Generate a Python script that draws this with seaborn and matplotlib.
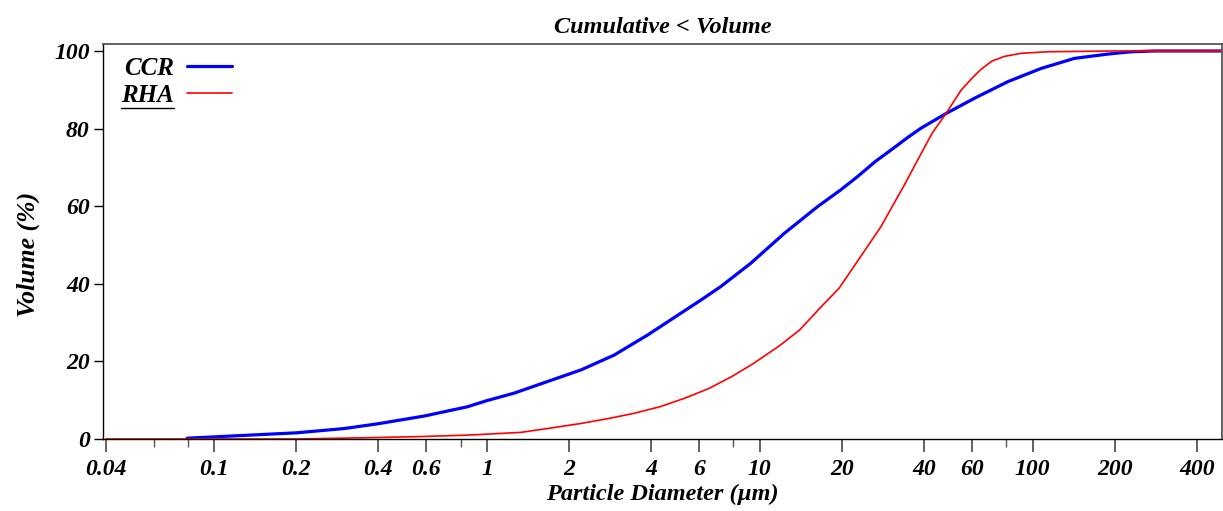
import matplotlib
matplotlib.use("Agg")
import matplotlib.pyplot as plt
import seaborn as sns
import pandas as pd
import numpy as np
from matplotlib.lines import Line2D
from matplotlib.ticker import FixedLocator, NullFormatter, FixedFormatter

# ---- data ----
ccr_d = [0.0795, 0.118, 0.201, 0.3, 0.396, 0.587, 0.847, 1.0, 1.255, 1.665, 2.21, 2.92,
         3.88, 5.13, 6.08, 7.2, 9.27, 12.3, 16.3, 19.8, 22.8, 26.5, 30.3, 35.0, 39.0,
         48.2, 61.2, 81.2, 107.5, 142.5, 189.0, 230.0, 280.0, 495.0]
ccr_v = [0.2, 0.8, 1.6, 2.7, 3.9, 5.9, 8.3, 9.9, 11.8, 14.8, 17.8, 21.6,
         26.8, 32.4, 35.8, 39.3, 45.3, 53.0, 59.9, 64.2, 67.6, 71.5, 74.5, 77.8, 80.1,
         83.9, 87.8, 92.1, 95.5, 98.1, 99.2, 99.8, 100.0, 100.0]
rha_d = [0.04, 0.2, 0.344, 0.555, 0.847, 1.33, 1.665, 2.21, 2.8, 3.45, 4.3, 5.3, 6.5,
         7.9, 9.5, 11.9, 14.0, 16.8, 19.5, 22.8, 27.8, 33.9, 39.0, 43.0, 48.2, 54.7,
         60.0, 64.8, 71.0, 78.8, 90.8, 113.7, 200.0, 495.0]
rha_v = [0.0, 0.0, 0.3, 0.6, 1.0, 1.7, 2.7, 4.0, 5.3, 6.6, 8.3, 10.5, 13.0,
         16.1, 19.5, 24.2, 28.1, 34.1, 38.8, 45.8, 54.7, 65.5, 73.5, 79.0, 83.9, 89.9,
         93.0, 95.3, 97.4, 98.6, 99.4, 99.8, 100.0, 100.0]

series_names = ["CCR", "RHA"]
major_ticks = [0.04, 0.1, 0.2, 0.4, 0.6, 1, 2, 4, 6, 10, 20, 40, 60, 100, 200, 400]
major_labels = ["0.04", "0.1", "0.2", "0.4", "0.6", "1", "2", "4", "6", "10", "20", "40",
                "60", "100", "200", "400"]
minor_ticks = [0.06, 0.08, 0.8, 8, 80]
y_ticks = [0, 20, 40, 60, 80, 100]

title = "Cumulative < Volume"
xlabel = "Particle Diameter (µm)"
ylabel = "Volume (%)"

# ---- style ----
sns.set_theme(style="white")
plt.rcParams["font.family"] = ["Liberation Serif", "DejaVu Serif"]
plt.rcParams["font.weight"] = "bold"
plt.rcParams["font.style"] = "italic"
plt.rcParams["text.color"] = "black"
plt.rcParams["axes.labelcolor"] = "black"
plt.rcParams["xtick.color"] = "black"
plt.rcParams["ytick.color"] = "black"

fig = plt.figure(figsize=(12.23, 5.11), dpi=100)
ax = fig.add_axes([0.0842, 0.1409, 0.9150, 0.7730])

df_ccr = pd.DataFrame({"d": ccr_d, "v": ccr_v})
df_rha = pd.DataFrame({"d": rha_d, "v": rha_v})

sns.lineplot(data=df_ccr, x="d", y="v", ax=ax, color="#0000ff", linewidth=2.3,
             label=series_names[0], estimator=None, sort=False)
sns.lineplot(data=df_rha, x="d", y="v", ax=ax, color="#ff0000", linewidth=1.2,
             label=series_names[1], estimator=None, sort=False)

ax.set_xscale("log")
ax.set_xlim(0.0391, 495)
ax.set_ylim(0, 101.8)

ax.xaxis.set_major_locator(FixedLocator(major_ticks))
ax.xaxis.set_major_formatter(FixedFormatter(major_labels))
ax.xaxis.set_minor_locator(FixedLocator(minor_ticks))
ax.xaxis.set_minor_formatter(NullFormatter())
ax.set_yticks(y_ticks)
ax.set_yticklabels([str(v) for v in y_ticks])

for lab in ax.get_xticklabels() + ax.get_yticklabels():
    lab.set_fontfamily("Liberation Serif")
    lab.set_fontweight("bold")
    lab.set_fontstyle("italic")
    lab.set_fontsize(17)
    lab.set_color("black")

ax.tick_params(axis="x", which="major", direction="out", length=9.5, width=1.3,
               color="#555555", labelcolor="black", pad=5, bottom=True)
ax.tick_params(axis="x", which="minor", direction="out", length=6, width=1.0,
               color="#555555", bottom=True)
ax.tick_params(axis="y", which="major", direction="out", length=6.5, width=1.0,
               color="#000000", labelcolor="black", pad=3, left=True)

for s in ["left", "bottom"]:
    ax.spines[s].set_color("#000000")
    ax.spines[s].set_linewidth(1.0)
for s in ["top", "right"]:
    ax.spines[s].set_color("#555555")
    ax.spines[s].set_linewidth(1.3)

ax.set_title(title, fontsize=17.5, fontweight="bold", fontstyle="italic", pad=8, color="black")
ax.set_xlabel(xlabel, fontsize=17.5, fontweight="bold", fontstyle="italic", labelpad=3)
ax.set_ylabel(ylabel, fontsize=18.5, fontweight="bold", fontstyle="italic")
ax.yaxis.set_label_coords(-0.056, 0.467)

leg = ax.legend(loc="upper left", frameon=False, markerfirst=False,
                prop=dict(family="Liberation Serif", weight="bold", style="italic", size=18),
                handlelength=1.8, handletextpad=0.5, labelspacing=0.15,
                borderaxespad=0.2, bbox_to_anchor=(0.003, 1.005))

# underline the RHA label like the reference
fig.canvas.draw()
r = fig.canvas.get_renderer()
t = leg.get_texts()[1]
bb = t.get_window_extent(r).transformed(fig.transFigure.inverted())
fig.add_artist(Line2D([bb.x0, bb.x1], [bb.y0 - 0.002, bb.y0 - 0.002],
                      transform=fig.transFigure, color="black", linewidth=1.0))

fig.savefig("out.png", dpi=100)
